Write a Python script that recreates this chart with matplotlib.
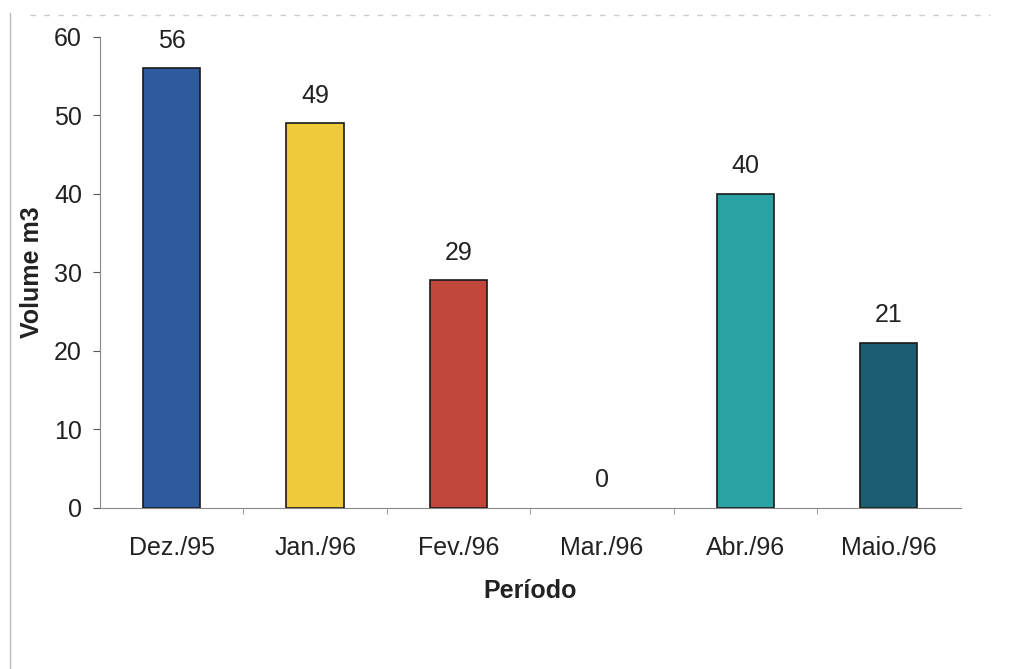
import matplotlib
matplotlib.use("Agg")
import matplotlib.pyplot as plt

categories = ["Dez./95", "Jan./96", "Fev./96", "Mar./96", "Abr./96", "Maio./96"]
values = [56, 49, 29, 0, 40, 21]
colors = ["#2F5B9E", "#EFCB3C", "#C1473C", "#8FA0B0", "#2AA1A3", "#1B5D73"]
yticks = [0, 10, 20, 30, 40, 50, 60]

plt.rcParams['font.family'] = ['Liberation Sans', 'DejaVu Sans']

fig = plt.figure(figsize=(10.1, 6.69), dpi=100)
ax = fig.add_axes([0.099, 0.2407, 0.852, 0.704])

x = list(range(len(categories)))
edges = ["#1a1a1a" if v > 0 else "none" for v in values]
ax.bar(x, values, width=0.4, color=colors, edgecolor=edges, linewidth=1.2)
for xi, v in zip(x, values):
    ax.text(xi, v + 2.0, str(v), ha="center", va="bottom", fontsize=18, color="#222222")

ax.set_xlim(-0.5, len(categories) - 0.5)
ax.set_ylim(0, 60)
ax.set_yticks(yticks)
ax.set_yticklabels([str(t) for t in yticks], fontsize=18, color="#222222")
ax.set_xticks(x)
ax.set_xticklabels(categories, fontsize=18, color="#222222")
ax.tick_params(axis="x", length=0, pad=20)
ax.set_xticks([i + 0.5 for i in x[:-1]], minor=True)
ax.tick_params(axis="x", which="minor", length=4, color="#888888", direction="out")
ax.tick_params(axis="y", length=5, color="#555555", direction="out", pad=8)

for s in ["top", "right"]:
    ax.spines[s].set_visible(False)
ax.spines["left"].set_color("#888888")
ax.spines["bottom"].set_color("#888888")

ax.set_ylabel("Volume m3", fontsize=18, fontweight="bold", color="#222222", labelpad=7)
ax.set_xlabel("Período", fontsize=18, fontweight="bold", color="#222222", labelpad=14)

# faint page frame lines from scan
fig.add_artist(plt.Line2D([0.01, 0.01], [0.0, 0.98], color="#bbbbbb", lw=1, transform=fig.transFigure))
fig.add_artist(plt.Line2D([0.03, 0.98], [0.977, 0.977], color="#cccccc", lw=1, ls=(0, (4, 6)), transform=fig.transFigure))

fig.savefig("out.png", dpi=100)
